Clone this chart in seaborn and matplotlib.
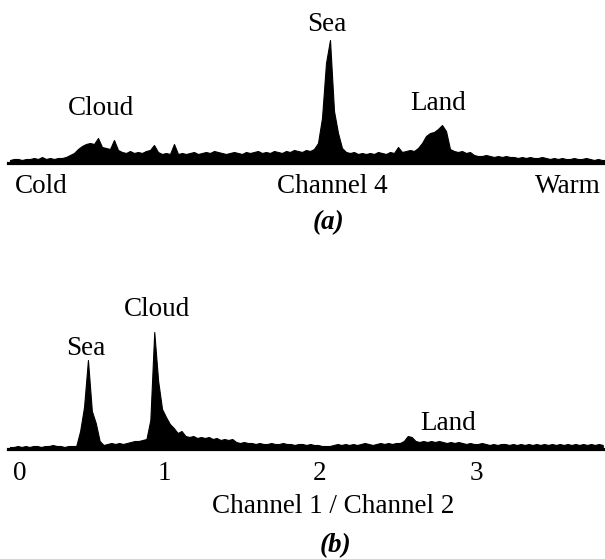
import numpy as np
import pandas as pd
import matplotlib
matplotlib.use("Agg")
import matplotlib.pyplot as plt
import matplotlib.transforms as mtrans
import seaborn as sns

# ---------------- data (histogram counts) ----------------
# (a) Channel 4 brightness-temperature histogram, one value per bin (cold -> warm)
counts_a = [3, 4, 4, 3, 4, 4, 5, 4, 6, 4, 5, 4, 5, 5, 6, 8, 10,
            14, 17, 19, 20, 19, 25, 16, 15, 14, 23, 13, 11, 10, 12,
            10, 11, 10, 12, 13, 18, 11, 9, 10, 9, 19, 9, 10, 9, 10, 11, 9, 10, 11, 10,
            12, 11, 10, 9, 10, 11, 10, 9, 11, 10, 11, 12, 10, 11, 10, 12, 11, 10, 12, 11,
            13, 12, 11, 13, 12, 14,
            20, 45, 100, 123, 52, 30,
            15, 11, 10, 11, 9, 10, 9, 10, 9, 11, 10, 9, 11, 10, 16, 11, 12, 13, 12,
            15, 20, 27, 30, 31, 34, 38, 32,
            14, 12, 11, 12, 10, 11, 8, 7, 7, 8, 7, 6, 7, 6, 7, 6, 6, 5, 6, 5,
            6, 5, 5, 6, 5, 4, 5, 4, 5, 4, 4, 5, 4, 4, 5, 4, 3, 4, 3, 3]
bin_width_a = 1.0

# (b) Channel 1 / Channel 2 ratio histogram, bins of 0.025 starting at 0
counts_b = [2, 2, 3, 2, 3, 2, 3, 3, 2, 3, 3, 4, 3, 3, 2, 3, 3, 3,
            18, 42, 89, 38, 26, 8,
            4, 5, 6, 5, 6, 5, 6, 7, 8, 8, 9, 10,
            29, 117, 68, 40, 32, 25, 21, 16, 18, 13,
            12, 13, 11, 12, 11, 12, 10, 11, 9, 10, 9, 10,
            7, 6, 7, 6, 6, 5, 6, 5, 5, 6, 5, 5, 6, 5, 5, 4, 5, 5, 4, 5, 4, 4,
            3, 3, 3, 4, 5, 4, 5, 4, 5, 4, 5, 6, 5, 4, 5, 6, 5, 6, 5, 6,
            6, 8, 13, 12, 8,
            7, 8, 7, 8, 7, 8, 7, 6, 7, 6, 7, 6, 5, 6, 5, 5, 6, 5, 4, 5, 4, 5, 5, 4,
            5, 4, 5, 4, 5, 4, 5, 4, 5, 4, 5, 4, 5, 4, 5, 4, 5, 4, 5, 4, 5, 4, 5, 4]
bin_width_b = 0.025
ticks_b = [0, 1, 2, 3]
tick_labels_b = ["0", "1", "2", "3"]

labels_a = ["Cloud", "Sea", "Land"]
labels_b = ["Sea", "Cloud", "Land"]
axis_words_a = ["Cold", "Channel 4", "Warm"]
xlabel_b = "Channel 1 / Channel 2"
panel_tags = ["(a)", "(b)"]

# ---------------- style ----------------
sns.set_theme(style="white")
plt.rcParams["font.family"] = ["Liberation Serif", "DejaVu Serif"]
plt.rcParams["text.color"] = "black"
plt.rcParams["xtick.color"] = "black"
FS = 19.5

W, H = 605, 559
fig = plt.figure(figsize=(W / 100, H / 100), dpi=100)
fig.patch.set_facecolor("white")


def px_axes(left, right, bottom, top):
    return fig.add_axes([left / W, (H - bottom) / H, (right - left) / W, (bottom - top) / H])


def draw_hist(ax, counts, width, name):
    edges = (np.arange(len(counts) + 1) * width).tolist()
    centers = [(edges[i] + edges[i + 1]) / 2 for i in range(len(counts))]
    df = pd.DataFrame({name: centers, "count": counts})
    sns.histplot(data=df, x=name, weights="count", bins=edges, element="poly",
                 fill=True, color="black", alpha=1, linewidth=0.8, ax=ax)
    ax.set_xlabel("")
    ax.set_ylabel("")
    ax.set_yticks([])
    ax.set_facecolor("none")
    sns.despine(ax=ax, left=True)
    ax.spines["bottom"].set_linewidth(2.3)
    ax.spines["bottom"].set_color("black")


# ---------------- panel (a) ----------------
ax_a = px_axes(8, 605, 163, 10)
draw_hist(ax_a, counts_a, bin_width_a, "channel4")
ax_a.set_xlim(0, 149.25)
ax_a.set_ylim(0, 153)
ax_a.set_xticks([])

tk = dict(ha="center", va="baseline", fontsize=FS, clip_on=False)
ax_a.text(23.25, 48, labels_a[0], **tk)
ax_a.text(79.75, 132, labels_a[1], **tk)
ax_a.text(107.5, 53, labels_a[2], **tk)
ax_a.text(1.75, -30, axis_words_a[0], ha="left", va="baseline", fontsize=FS, clip_on=False)
ax_a.text(81, -30, axis_words_a[1], **tk)
ax_a.text(148.2, -30, axis_words_a[2], ha="right", va="baseline", fontsize=FS, clip_on=False)
ax_a.text(80, -66, panel_tags[0], ha="center", va="baseline", fontsize=FS,
          fontweight="bold", fontstyle="italic", clip_on=False)

# ---------------- panel (b) ----------------
ax_b = px_axes(8, 605, 449, 290)
draw_hist(ax_b, counts_b, bin_width_b, "ratio")
ax_b.set_xlim(0, 3.827)
ax_b.set_ylim(0, 159)
ax_b.set_xticks(ticks_b)
ax_b.set_xticklabels(tick_labels_b)
ax_b.tick_params(axis="x", length=0, pad=9, labelsize=FS, colors="black")
lab0 = ax_b.get_xticklabels()[0]
lab0.set_transform(lab0.get_transform() + mtrans.ScaledTranslation(12 / 100, 0, fig.dpi_scale_trans))

ax_b.text(0.5, 94, labels_b[0], **tk)
ax_b.text(0.955, 133, labels_b[1], **tk)
ax_b.text(2.82, 19, labels_b[2], **tk)
ax_b.text(2.083, -64, xlabel_b, **tk)
ax_b.text(2.10, -103, panel_tags[1], ha="center", va="baseline", fontsize=FS,
          fontweight="bold", fontstyle="italic", clip_on=False)

fig.savefig("out.png", dpi=100, facecolor="white")
